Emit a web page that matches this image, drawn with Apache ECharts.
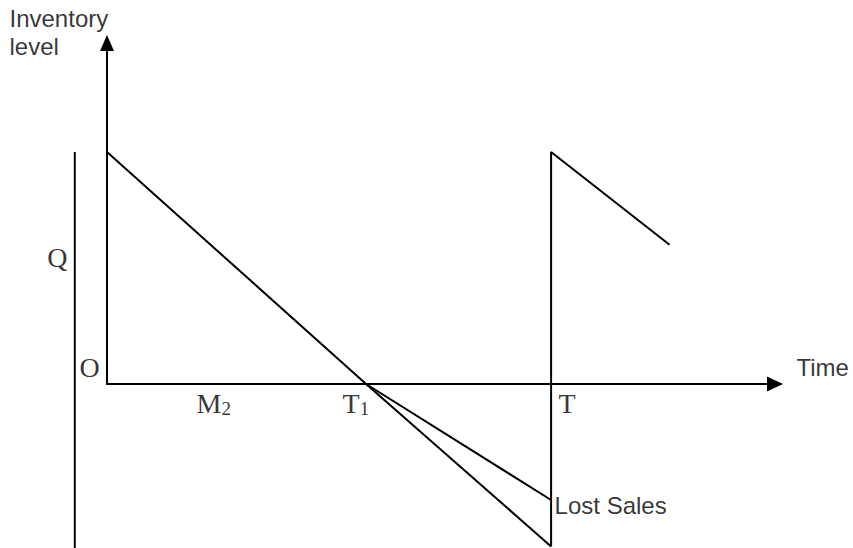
<!DOCTYPE html>
<html>
<head>
<meta charset="utf-8">
<script src="https://cdn.jsdelivr.net/npm/echarts@6/dist/echarts.min.js"></script>
<style>
  html, body { margin: 0; padding: 0; background: #fff; }
  #chart { width: 853px; height: 548px; }
</style>
</head>
<body>
<div id="chart"></div>
<script>
// order quantity and time marks (M2, T1, T)
const orderQty = 10
const markTimes = [3, 7, 12]
const markNames = ['M', 'T', 'T']
const markSubs = ['2', '1', '']

// first cycle: stock falls from Q, hits zero at T1, shortage grows until T
const cycleTime = [0, 7, 12]
const cycleLevel = [10, 0, -7]

// lost sales line from T1 to T
const lostTime = [7, 12]
const lostLevel = [0, -5]

// replenishment at T and start of next cycle
const nextTime = [12, 12, 15.2]
const nextLevel = [-7, 10, 6]

// bracket marking Q on the left
const qTime = [-0.87, -0.87]
const qLevel = [10, -7.2]

const zip = (xs, ys) => xs.map((x, i) => [x, ys[i]])

const chart = echarts.init(document.getElementById('chart'), null, { renderer: 'svg' })

const lineStyle = { color: '#000', width: 2 }
const serif = 'Liberation Serif, Times New Roman, serif'
const sans = 'Liberation Sans, Arial, sans-serif'

const serifRich = {
  m: { fontFamily: serif, fontSize: 28, lineHeight: 28, color: '#000' },
  s: { fontFamily: serif, fontSize: 19, lineHeight: 19, verticalAlign: 'bottom', color: '#000' }
}
const sansStyle = { fontFamily: sans, fontSize: 24, lineHeight: 28, color: '#000' }

function lineSeries(data) {
  return {
    type: 'line',
    data: data,
    symbol: 'none',
    clip: false,
    silent: true,
    lineStyle: lineStyle
  }
}

function textItem(at, text, offset, style) {
  return {
    value: at,
    label: Object.assign({
      show: true,
      formatter: text,
      position: offset,
      align: 'left',
      verticalAlign: 'top'
    }, style)
  }
}

const xMax = 18.05
const yMax = 14.7

const labelData = [
  textItem([0, 0], '{m|O}', [-27, -30], { rich: serifRich }),
  textItem([qTime[0], orderQty / 2], '{m|Q}', [-27, -24], { rich: serifRich }),
  textItem([0, yMax], 'Inventory\nlevel', [-97, -38], sansStyle),
  textItem([xMax, 0], 'Time', [22, -30], sansStyle),
  textItem(zip(lostTime, lostLevel)[1], 'Lost Sales', [4, -8], sansStyle)
]
const markOffsets = [[-21, 6], [-23, 6], [8, 6]]
markTimes.forEach((t, i) => {
  const txt = '{m|' + markNames[i] + '}' + (markSubs[i] ? '{s|' + markSubs[i] + '}' : '')
  labelData.push(textItem([t, 0], txt, markOffsets[i], { rich: serifRich }))
})

const option = {
  animation: false,
  backgroundColor: '#fff',
  grid: { left: 107, right: 78, top: 43, bottom: 164 },
  xAxis: {
    type: 'value',
    min: 0,
    max: xMax,
    axisLine: {
      show: true,
      symbol: ['none', 'triangle'],
      symbolSize: [15, 16],
      lineStyle: lineStyle
    },
    axisTick: { show: false },
    axisLabel: { show: false },
    splitLine: { show: false }
  },
  yAxis: {
    type: 'value',
    min: 0,
    max: yMax,
    axisLine: {
      show: true,
      symbol: ['none', 'triangle'],
      symbolSize: [14, 16],
      lineStyle: lineStyle
    },
    axisTick: { show: false },
    axisLabel: { show: false },
    splitLine: { show: false }
  },
  series: [
    lineSeries(zip(cycleTime, cycleLevel)),
    lineSeries(zip(lostTime, lostLevel)),
    lineSeries(zip(nextTime, nextLevel)),
    {
      // Q bracket sits left of the time axis origin, drawn as a custom line
      type: 'custom',
      clip: false,
      silent: true,
      data: [[qTime[0], qLevel[0], qTime[1], qLevel[1]]],
      renderItem: function (params, api) {
        const p1 = api.coord([api.value(0), api.value(1)])
        const p2 = api.coord([api.value(2), api.value(3)])
        return {
          type: 'line',
          shape: { x1: p1[0], y1: p1[1], x2: p2[0], y2: p2[1] },
          style: { stroke: '#000', lineWidth: 2 }
        }
      }
    },
    {
      type: 'scatter',
      symbolSize: 1,
      itemStyle: { color: 'transparent' },
      clip: false,
      silent: true,
      data: labelData
    }
  ]
}

chart.setOption(option)
</script>
</body>
</html>
